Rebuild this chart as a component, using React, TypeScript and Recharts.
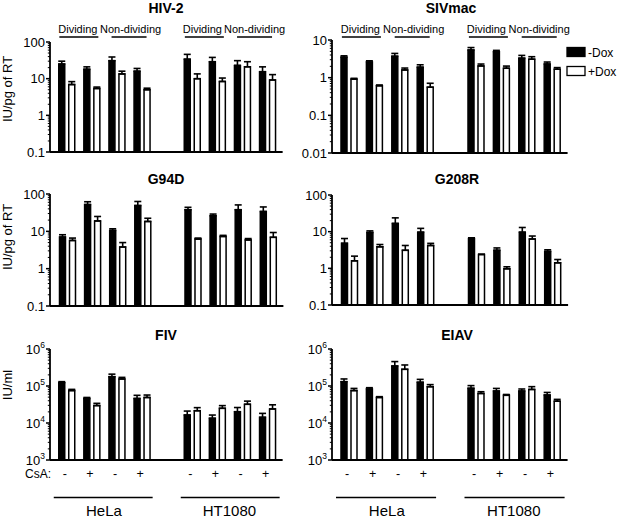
import React from 'react';
import { BarChart, Bar, XAxis, YAxis, ErrorBar } from 'recharts';

const FONT = '"Liberation Sans", Arial, Helvetica, sans-serif';

// ---------- categories (index 4 is the empty gap between HeLa and HT1080) ----------
const categories = [
  'HeLa Dividing CsA-', 'HeLa Dividing CsA+', 'HeLa Non-dividing CsA-', 'HeLa Non-dividing CsA+',
  '',
  'HT1080 Dividing CsA-', 'HT1080 Dividing CsA+', 'HT1080 Non-dividing CsA-', 'HT1080 Non-dividing CsA+',
];
const csaLabels = ['-', '+', '-', '+', '', '-', '+', '-', '+'];

// ---------- HIV-2 ----------
const hiv2Minus = [25, 18, 31, 16, null, 34, 29, 23, 15.5];
const hiv2MinusErr = [5, 3, 8, 3, null, 12, 9, 8, 5.5];
const hiv2Plus = [6.9, 5.4, 13.5, 5.0, null, 10, 8.4, 21, 9.2];
const hiv2PlusErr = [1.4, 0.5, 2.5, 0.5, null, 3.5, 2, 8, 3.7];

// ---------- SIVmac ----------
const sivMinus = [3.5, 2.6, 3.7, 1.9, null, 5.4, 4.9, 3.3, 2.3];
const sivMinusErr = [0.3, 0.2, 0.7, 0.3, null, 0.9, 0.4, 0.6, 0.3];
const sivPlus = [0.91, 0.61, 1.6, 0.56, null, 2.05, 1.78, 3.1, 1.68];
const sivPlusErr = [0.05, 0.03, 0.2, 0.15, null, 0.25, 0.25, 0.5, 0.17];

// ---------- G94D ----------
const g94dMinus = [7.0, 52, 10.6, 49, null, 38, 26, 38, 34];
const g94dMinusErr = [1.1, 10, 1.1, 14, null, 6, 3, 13, 11];
const g94dPlus = [5.7, 19, 3.8, 18.4, null, 6.2, 7.3, 5.9, 6.9];
const g94dPlusErr = [0.9, 6, 1.2, 4, null, 0.4, 0.5, 0.5, 2.4];

// ---------- G208R ----------
const g208rMinus = [4.8, 9.5, 16.8, 9.7, null, 6.5, 3.1, 9.7, 2.9];
const g208rMinusErr = [1.7, 1, 7, 2.6, null, 0.3, 0.5, 3.3, 0.3];
const g208rPlus = [1.6, 3.86, 3.1, 4.2, null, 2.38, 0.97, 6.3, 1.41];
const g208rPlusErr = [0.55, 0.6, 1.1, 0.6, null, 0.05, 0.13, 1.3, 0.33];

// ---------- FIV ----------
const fivMinus = [123000, 46000, 179000, 46000, null, 16400, 13400, 20200, 14200];
const fivMinusErr = [8000, 3000, 30000, 10000, null, 4600, 3000, 6000, 4000];
const fivPlus = [75000, 29500, 155000, 49000, null, 21500, 24900, 32000, 24000];
const fivPlusErr = [6000, 4500, 16000, 8000, null, 4500, 4600, 7000, 7000];

// ---------- EIAV ----------
const eiavMinus = [131000, 83000, 347000, 126000, null, 86500, 73000, 73000, 57000];
const eiavMinusErr = [24000, 7000, 110000, 25000, null, 16000, 13000, 10000, 10000];
const eiavPlus = [75000, 49000, 282000, 96000, null, 63000, 56000, 81000, 39000];
const eiavPlusErr = [11000, 2500, 88000, 13000, null, 7000, 3000, 15000, 4500];

// ---------- axis ticks ----------
const ticksRT = [0.1, 1, 10, 100];
const ticksRTLabels = ['0.1', '1', '10', '100'];
const ticksSIV = [0.01, 0.1, 1, 10];
const ticksSIVLabels = ['0.01', '0.1', '1', '10'];
const ticksIU = [1000, 10000, 100000, 1000000];
const ticksIUExp = ['3', '4', '5', '6'];

type Num = number | null;

function makeRows(minus: Num[], minusErr: Num[], plus: Num[], plusErr: Num[]) {
  return categories.map((name, i) => ({
    name,
    minus: minus[i] == null ? undefined : minus[i],
    minusErr: minusErr[i] == null ? undefined : [0, minusErr[i] as number],
    plus: plus[i] == null ? undefined : plus[i],
    plusErr: plusErr[i] == null ? undefined : [0, plusErr[i] as number],
  }));
}

function withMinor(majors: number[]) {
  const out: number[] = [];
  for (let k = 0; k < majors.length; k++) {
    out.push(majors[k]);
    if (k < majors.length - 1) {
      for (let m = 2; m <= 9; m++) out.push(majors[k] * m);
    }
  }
  return out;
}

const TICK_SIZE = 4;
const TICK_MARGIN = 2;

function makeTick(majors: number[], labels: string[], sup: boolean) {
  return (props: any) => {
    const { x, y, payload } = props;
    const v = payload.value;
    const idx = majors.findIndex((m) => Math.abs(m - v) / m < 1e-6);
    const ax = x + TICK_SIZE + TICK_MARGIN;
    if (idx < 0) {
      return (
        <g>
          <line x1={ax - 2.2} x2={ax} y1={y} y2={y} stroke="#000" strokeWidth={1} />
        </g>
      );
    }
    return (
      <g>
        <line x1={ax - 4} x2={ax} y1={y} y2={y} stroke="#000" strokeWidth={1.5} />
        <text x={ax - 5} y={y} dy={4.6} textAnchor="end" fontSize={13} fill="#000" fontFamily={FONT}>
          {sup ? (
            <>
              10<tspan fontSize={8.5} dy={-5.5}>{labels[idx]}</tspan>
            </>
          ) : (
            labels[idx]
          )}
        </text>
      </g>
    );
  };
}

type PanelCfg = {
  axisX: number;
  top: number;
  bottom: number;
  slotW: number;
  padL: number;
  padR: number;
};

const Y_AXIS_W = 50;

function Panel({ cfg, rows, domain, majors, labels, sup }: { cfg: PanelCfg; rows: any[]; domain: [number, number]; majors: number[]; labels: string[]; sup: boolean }) {
  const mt = 10;
  const mb = 10;
  const plotW = cfg.padL + cfg.padR + categories.length * cfg.slotW;
  const width = Y_AXIS_W + plotW + 4;
  const height = cfg.bottom - cfg.top + mt + mb;
  return (
    <div style={{ position: 'absolute', left: cfg.axisX - Y_AXIS_W, top: cfg.top - mt }}>
      <BarChart
        width={width}
        height={height}
        data={rows}
        margin={{ top: mt, right: 4, bottom: mb - 1, left: 0 }}
        barGap={4}
        barSize={6}
      >
        <XAxis
          dataKey="name"
          tick={false}
          tickLine={false}
          height={1}
          axisLine={{ stroke: '#000', strokeWidth: 1.8 }}
          padding={{ left: cfg.padL, right: cfg.padR }}
        />
        <YAxis
          type="number"
          scale="log"
          domain={domain}
          allowDataOverflow
          ticks={withMinor(majors)}
          interval={0}
          width={Y_AXIS_W}
          tickSize={TICK_SIZE}
          tickMargin={TICK_MARGIN}
          tickLine={false}
          axisLine={{ stroke: '#000', strokeWidth: 1.8 }}
          tick={makeTick(majors, labels, sup)}
        />
        <Bar dataKey="minus" fill="#000" stroke="#000" strokeWidth={1.5} isAnimationActive={false}>
          <ErrorBar dataKey="minusErr" width={3.5} stroke="#000" strokeWidth={1.6} direction="y" isAnimationActive={false} />
        </Bar>
        <Bar dataKey="plus" fill="#fff" stroke="#000" strokeWidth={1.5} isAnimationActive={false}>
          <ErrorBar dataKey="plusErr" width={3.5} stroke="#000" strokeWidth={1.6} direction="y" isAnimationActive={false} />
        </Bar>
      </BarChart>
    </div>
  );
}

const P1: PanelCfg = { axisX: 50, top: 42, bottom: 152, slotW: 25.1, padL: 3.75, padR: 3 };
const P2: PanelCfg = { axisX: 332, top: 40, bottom: 153, slotW: 25.4, padL: 4, padR: 3 };
const P3: PanelCfg = { axisX: 50, top: 194, bottom: 306, slotW: 25.1, padL: 4.5, padR: 3 };
const P4: PanelCfg = { axisX: 332, top: 195, bottom: 305, slotW: 25.4, padL: 4.5, padR: 3 };
const P5: PanelCfg = { axisX: 50, top: 349, bottom: 460, slotW: 25.1, padL: 3.75, padR: 3 };
const P6: PanelCfg = { axisX: 332, top: 349, bottom: 460, slotW: 25.4, padL: 4, padR: 3 };

const slotCenter = (p: PanelCfg, s: number) => p.axisX + p.padL + (s + 0.5) * p.slotW;
const slotStart = (p: PanelCfg, s: number) => p.axisX + p.padL + s * p.slotW;

function DividingLabels({ p }: { p: PanelCfg }) {
  const pairs = [
    { a: 0, b: 1, text: 'Dividing', half: 19.5, dx: -1 },
    { a: 2, b: 3, text: 'Non-dividing', half: 17.5, dx: 1.5 },
    { a: 5, b: 6, text: 'Dividing', half: 19.5, dx: -2 },
    { a: 7, b: 8, text: 'Non-dividing', half: 17.5, dx: 0 },
  ];
  return (
    <g>
      {pairs.map((q, i) => {
        const c = (slotCenter(p, q.a) + slotCenter(p, q.b)) / 2;
        return (
          <g key={i}>
            <text x={c + q.dx} y={33} textAnchor="middle" fontSize={11} fontFamily={FONT} fill="#000">{q.text}</text>
            <line x1={c - q.half} x2={c + q.half} y1={37} y2={37} stroke="#000" strokeWidth={1.3} />
          </g>
        );
      })}
    </g>
  );
}

function BottomLabels({ p, showCsA }: { p: PanelCfg; showCsA: boolean }) {
  return (
    <g fontFamily={FONT} fill="#000">
      {showCsA && (
        <text x={p.axisX - 25} y={477.5} fontSize={12}>CsA:</text>
      )}
      {csaLabels.map((l, i) =>
        l ? (
          <text key={i} x={slotCenter(p, i) - 1.5} y={477.5} fontSize={12.5} textAnchor="middle">{l}</text>
        ) : null
      )}
      <line x1={slotStart(p, 0)} x2={slotStart(p, 4) - 1.5} y1={497.5} y2={497.5} stroke="#000" strokeWidth={1.3} />
      <line x1={slotStart(p, 5) + 1.5} x2={slotStart(p, 9)} y1={497.5} y2={497.5} stroke="#000" strokeWidth={1.3} />
      <text x={(slotStart(p, 0) + slotStart(p, 4)) / 2} y={516} fontSize={15} textAnchor="middle">HeLa</text>
      <text x={(slotStart(p, 5) + slotStart(p, 9)) / 2} y={516} fontSize={15} textAnchor="middle">HT1080</text>
    </g>
  );
}

function Overlay() {
  const titleStyle = { fontSize: 14, fontWeight: 700 as const, fontFamily: FONT };
  return (
    <svg width={617} height={518} style={{ position: 'absolute', left: 0, top: 0, pointerEvents: 'none' }}>
      <text x={166} y={13} textAnchor="middle" {...titleStyle}>HIV-2</text>
      <text x={451} y={13} textAnchor="middle" {...titleStyle}>SIVmac</text>
      <text x={166} y={184} textAnchor="middle" {...titleStyle}>G94D</text>
      <text x={457} y={184} textAnchor="middle" {...titleStyle}>G208R</text>
      <text x={166} y={340} textAnchor="middle" {...titleStyle}>FIV</text>
      <text x={457} y={340} textAnchor="middle" {...titleStyle}>EIAV</text>

      <DividingLabels p={P1} />
      <DividingLabels p={P2} />

      <g fontFamily={FONT} fontSize={12} fill="#000">
        <rect x={567} y={47.5} width={18} height={9} fill="#000" stroke="#000" strokeWidth={1.3} />
        <text x={588} y={56.5}>-Dox</text>
        <rect x={567} y={66.5} width={18} height={9} fill="#fff" stroke="#000" strokeWidth={1.3} />
        <text x={588} y={75.5}>+Dox</text>
      </g>

      <g fontFamily={FONT} fontSize={13} fill="#000">
        <text transform="rotate(-90 7 89)" x={7} y={89} textAnchor="middle" dominantBaseline="central">IU/pg of RT</text>
        <text transform="rotate(-90 7 237)" x={7} y={237} textAnchor="middle" dominantBaseline="central">IU/pg of RT</text>
        <text transform="rotate(-90 7 385)" x={7} y={385} textAnchor="middle" dominantBaseline="central">IU/ml</text>
      </g>

      <BottomLabels p={P5} showCsA={true} />
      <BottomLabels p={P6} showCsA={false} />
    </svg>
  );
}

export default function App() {
  return (
    <div style={{ position: 'absolute', left: 0, top: 0, width: 617, height: 518, background: '#fff', fontFamily: FONT }}>
      <Panel cfg={P1} rows={makeRows(hiv2Minus, hiv2MinusErr, hiv2Plus, hiv2PlusErr)} domain={[0.1, 100]} majors={ticksRT} labels={ticksRTLabels} sup={false} />
      <Panel cfg={P2} rows={makeRows(sivMinus, sivMinusErr, sivPlus, sivPlusErr)} domain={[0.01, 10]} majors={ticksSIV} labels={ticksSIVLabels} sup={false} />
      <Panel cfg={P3} rows={makeRows(g94dMinus, g94dMinusErr, g94dPlus, g94dPlusErr)} domain={[0.1, 100]} majors={ticksRT} labels={ticksRTLabels} sup={false} />
      <Panel cfg={P4} rows={makeRows(g208rMinus, g208rMinusErr, g208rPlus, g208rPlusErr)} domain={[0.1, 100]} majors={ticksRT} labels={ticksRTLabels} sup={false} />
      <Panel cfg={P5} rows={makeRows(fivMinus, fivMinusErr, fivPlus, fivPlusErr)} domain={[1000, 1000000]} majors={ticksIU} labels={ticksIUExp} sup={true} />
      <Panel cfg={P6} rows={makeRows(eiavMinus, eiavMinusErr, eiavPlus, eiavPlusErr)} domain={[1000, 1000000]} majors={ticksIU} labels={ticksIUExp} sup={true} />
      <Overlay />
    </div>
  );
}
